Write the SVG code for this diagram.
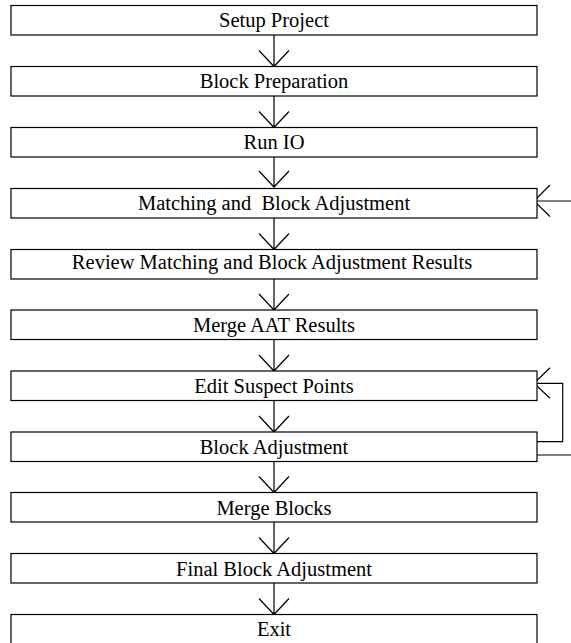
<svg xmlns="http://www.w3.org/2000/svg" width="571" height="643" viewBox="0 0 571 643">
<style>
.box{fill:#fff;stroke:#000;stroke-width:1.2}
.lbl{font-family:"Liberation Serif","Times New Roman",serif;font-size:20.5px;fill:#000;text-anchor:middle}
.ln{fill:none;stroke:#000;stroke-width:1.2}
</style>
<rect width="571" height="643" fill="#fff"/>
<g id="connectors">
<path class="ln" d="M274,35 V66.5 M259,50.5 L274,66.5 L289,50.5"/>
<path class="ln" d="M274,96 V127.5 M259,111.5 L274,127.5 L289,111.5"/>
<path class="ln" d="M274,157 V187 M259,171 L274,187 L289,171"/>
<path class="ln" d="M274,218 V249.5 M259,233.5 L274,249.5 L289,233.5"/>
<path class="ln" d="M274,279 V310 M259,294 L274,310 L289,294"/>
<path class="ln" d="M274,339.5 V371 M259,355 L274,371 L289,355"/>
<path class="ln" d="M274,400.5 V432 M259,416 L274,432 L289,416"/>
<path class="ln" d="M274,461.5 V492.5 M259,476.5 L274,492.5 L289,476.5"/>
<path class="ln" d="M274,522 V553.5 M259,537.5 L274,553.5 L289,537.5"/>
<path class="ln" d="M274,583 V614.5 M259,598.5 L274,614.5 L289,598.5"/>
<path class="ln" d="M571,201 H534 M550,185 L534,201 L550,216.5"/>
<path class="ln" d="M533,441.7 H562.7 V383.3 H534 M550,367.7 L534,383.3 L550,398.3"/>
<path class="ln" d="M533,455 H571"/>
</g>
<g id="n1"><rect class="box" x="11" y="5.5" width="526" height="29.5"/><text class="lbl" x="274" y="27">Setup Project</text></g>
<g id="n2"><rect class="box" x="11" y="66.5" width="526" height="29.5"/><text class="lbl" x="274" y="88">Block Preparation</text></g>
<g id="n3"><rect class="box" x="11" y="127.5" width="526" height="29.5"/><text class="lbl" x="274" y="149.3">Run IO</text></g>
<g id="n4"><rect class="box" x="11" y="188.5" width="526" height="29.5"/><text class="lbl" x="274" y="210" xml:space="preserve">Matching and  Block Adjustment</text></g>
<g id="n5"><rect class="box" x="11" y="249.5" width="526" height="29.5"/><text class="lbl" x="272" y="268.5">Review Matching and Block Adjustment Results</text></g>
<g id="n6"><rect class="box" x="11" y="310" width="526" height="29.5"/><text class="lbl" x="274" y="332.3">Merge AAT Results</text></g>
<g id="n7"><rect class="box" x="11" y="371" width="526" height="29.5"/><text class="lbl" x="274" y="393.3">Edit Suspect Points</text></g>
<g id="n8"><rect class="box" x="11" y="432" width="526" height="29.5"/><text class="lbl" x="274" y="454">Block Adjustment</text></g>
<g id="n9"><rect class="box" x="11" y="492.5" width="526" height="29.5"/><text class="lbl" x="274" y="515">Merge Blocks</text></g>
<g id="n10"><rect class="box" x="11" y="553.5" width="526" height="29.5"/><text class="lbl" x="274" y="575.7">Final Block Adjustment</text></g>
<g id="n11"><rect class="box" x="11" y="614.5" width="526" height="29.5"/><text class="lbl" x="274" y="635.5">Exit</text></g>
</svg>
